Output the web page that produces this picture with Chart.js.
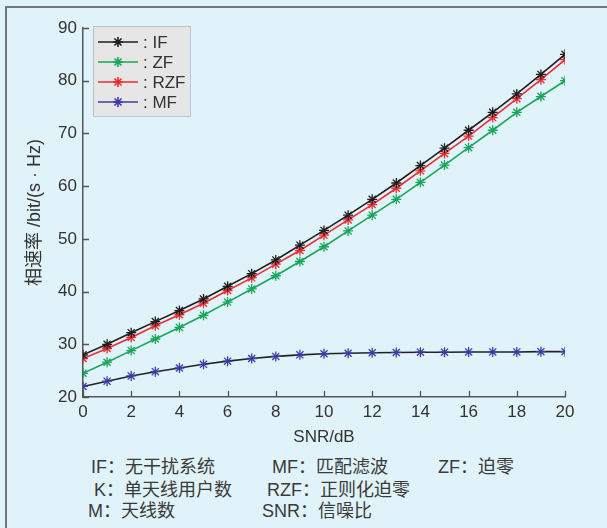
<!DOCTYPE html>
<html>
<head>
<meta charset="utf-8">
<script src="https://cdn.jsdelivr.net/npm/chart.js"></script>
<style>
  html, body { margin: 0; padding: 0; background: #e0f2fa; }
  body { width: 607px; height: 528px; overflow: hidden; position: relative;
         font-family: "Liberation Sans", "Noto Sans CJK SC", sans-serif; color: #333; }
  #frame { position: absolute; left: 5px; top: 6px; width: 700px; height: 600px;
           border-left: 2px solid #777; border-top: 2px solid #777; }
  #wrap { position: absolute; left: 0; top: 0; width: 607px; height: 455px; }
  .note { position: absolute; font-size: 18px; line-height: 20px; white-space: nowrap; color: #3a3a3a; }
</style>
</head>
<body>
<div id="frame"></div>
<div id="wrap"><canvas id="rate"></canvas></div>

<div class="note" style="left:91px;top:457px">IF：无干扰系统</div>
<div class="note" style="left:272px;top:457px">MF：匹配滤波</div>
<div class="note" style="left:438px;top:457px">ZF：迫零</div>
<div class="note" style="left:94px;top:480px">K：单天线用户数</div>
<div class="note" style="left:267px;top:480px">RZF：正则化迫零</div>
<div class="note" style="left:88px;top:501px">M：天线数</div>
<div class="note" style="left:262px;top:501px">SNR：信噪比</div>

<script>
// dados
const snrDb = [0, 1, 2, 3, 4, 5, 6, 7, 8, 9, 10, 11, 12, 13, 14, 15, 16, 17, 18, 19, 20];
const rateIF  = [28.0, 30.0, 32.2, 34.3, 36.4, 38.6, 41.0, 43.4, 46.0, 48.8, 51.6, 54.5, 57.5, 60.6, 63.9, 67.2, 70.6, 74.0, 77.5, 81.2, 85.0];
const rateZF  = [24.5, 26.6, 28.8, 31.0, 33.2, 35.5, 38.0, 40.5, 43.0, 45.7, 48.5, 51.5, 54.5, 57.5, 60.7, 64.0, 67.3, 70.6, 74.0, 77.0, 80.0];
const rateRZF = [27.3, 29.2, 31.3, 33.5, 35.6, 37.8, 40.2, 42.6, 45.2, 47.8, 50.7, 53.6, 56.5, 59.6, 62.9, 66.2, 69.5, 73.0, 76.6, 80.2, 84.0];
const rateMF  = [22.0, 23.0, 24.0, 24.8, 25.5, 26.2, 26.8, 27.3, 27.7, 28.0, 28.2, 28.3, 28.4, 28.45, 28.5, 28.5, 28.55, 28.55, 28.55, 28.6, 28.6];
const seriesLabels = ['IF', 'ZF', 'RZF', 'MF'];
const yTicks = [20, 30, 40, 50, 60, 70, 80, 90];
const xTicks = [0, 2, 4, 6, 8, 10, 12, 14, 16, 18, 20];

const axisColor = '#555';
const textFont = { family: "'Liberation Sans', 'Noto Sans CJK SC', sans-serif", size: 17 };
const yTitleFont = { family: "'Liberation Sans', 'Noto Sans CJK SC', sans-serif", size: 18 };

function toPoints(values) {
  return values.map(function(v, i) { return { x: snrDb[i], y: v }; });
}

function makeSet(label, values, lineColor, pointColor) {
  return {
    label: label,
    data: toPoints(values),
    borderColor: lineColor,
    borderWidth: 1.6,
    pointStyle: 'star',
    pointRadius: 5,
    pointBorderWidth: 1.3,
    pointBorderColor: pointColor,
    pointBackgroundColor: pointColor,
    fill: false,
    tension: 0
  };
}

// ticks voltados para dentro
const innerTicks = {
  id: 'innerTicks',
  afterDraw: function(chart) {
    const ctx = chart.ctx;
    const area = chart.chartArea;
    const sx = chart.scales.x, sy = chart.scales.y;
    ctx.save();
    ctx.strokeStyle = axisColor;
    ctx.lineWidth = 1.3;
    ctx.beginPath();
    xTicks.forEach(function(t) {
      const px = Math.round(sx.getPixelForValue(t)) + 0.5;
      ctx.moveTo(px, area.bottom);
      ctx.lineTo(px, area.bottom - 6);
    });
    yTicks.forEach(function(t) {
      const py = Math.round(sy.getPixelForValue(t)) + 0.5;
      ctx.moveTo(area.left, py);
      ctx.lineTo(area.left + 6, py);
    });
    ctx.stroke();
    ctx.restore();
  }
};

// legenda dentro da área do gráfico
const boxLegend = {
  id: 'boxLegend',
  afterDraw: function(chart) {
    const ctx = chart.ctx;
    const area = chart.chartArea;
    const bx = area.left + 10, by = area.top - 2, bw = 97, bh = 90;
    ctx.save();
    ctx.fillStyle = '#e6e6e6';
    ctx.fillRect(bx, by, bw, bh);
    ctx.setLineDash([1, 1]);
    ctx.strokeStyle = '#999';
    ctx.lineWidth = 1;
    ctx.strokeRect(bx + 0.5, by + 0.5, bw, bh);
    ctx.setLineDash([]);
    ctx.font = "17px 'Liberation Sans', sans-serif";
    ctx.textBaseline = 'middle';
    chart.data.datasets.forEach(function(ds, i) {
      const y = by + 16 + i * 20;
      ctx.strokeStyle = ds.pointBorderColor;
      ctx.lineWidth = 1.6;
      ctx.beginPath();
      ctx.moveTo(bx + 5, y);
      ctx.lineTo(bx + 45, y);
      ctx.stroke();
      Chart.helpers.drawPoint(ctx, { pointStyle: 'star', radius: 5, borderWidth: 1.3 }, bx + 25, y);
      ctx.fillStyle = '#333';
      ctx.fillText(': ' + ds.label, bx + 50, y + 1);
    });
    ctx.restore();
  }
};

new Chart(document.getElementById('rate'), {
  type: 'line',
  data: {
    datasets: [
      makeSet(seriesLabels[0], rateIF, '#1e1e1e', '#1e1e1e'),
      makeSet(seriesLabels[1], rateZF, '#19a55a', '#19a55a'),
      makeSet(seriesLabels[2], rateRZF, '#ee2b2f', '#ee2b2f'),
      makeSet(seriesLabels[3], rateMF, '#222222', '#3c3ca8')
    ]
  },
  options: {
    responsive: true,
    maintainAspectRatio: false,
    animation: false,
    layout: { padding: { top: 28, right: 42, left: 0, bottom: 0 } },
    plugins: { legend: { display: false }, tooltip: { enabled: false } },
    scales: {
      x: {
        type: 'linear',
        min: 0, max: 20,
        afterFit: function(s) { s.height = 58; },
        afterBuildTicks: function(s) { s.ticks = xTicks.map(function(v) { return { value: v }; }); },
        grid: { display: false, drawTicks: false },
        border: { display: true, color: axisColor, width: 1.5 },
        ticks: { color: '#333', font: textFont, padding: 5, maxRotation: 0 },
        title: { display: true, text: 'SNR/dB', color: '#333', font: textFont, padding: { top: 0, bottom: 7 } }
      },
      y: {
        min: 20, max: 90,
        afterFit: function(s) { s.width = 83; },
        afterBuildTicks: function(s) { s.ticks = yTicks.map(function(v) { return { value: v }; }); },
        grid: { display: false, drawTicks: false },
        border: { display: true, color: axisColor, width: 1.5 },
        ticks: { color: '#333', font: textFont, padding: 6 },
        title: { display: true, text: '相速率 /bit/(s · Hz)', color: '#333', font: yTitleFont, padding: { top: 24, bottom: 0 } }
      }
    }
  },
  plugins: [innerTicks, boxLegend]
});
</script>
</body>
</html>
